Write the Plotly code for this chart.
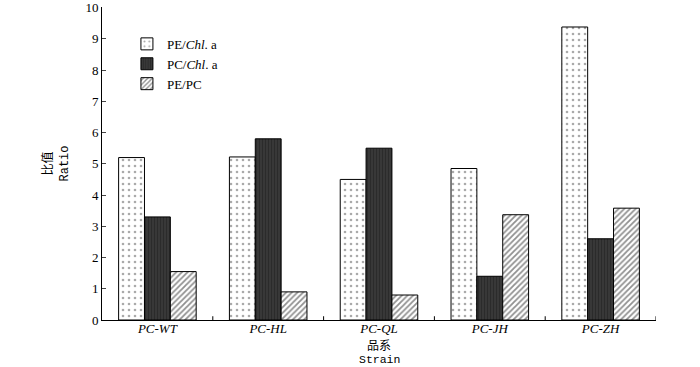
import plotly.graph_objects as go

strains = ["PC-WT", "PC-HL", "PC-QL", "PC-JH", "PC-ZH"]
pe_chl = [5.2, 5.22, 4.5, 4.85, 9.38]
pc_chl = [3.3, 5.8, 5.5, 1.4, 2.6]
pe_pc = [1.55, 0.9, 0.8, 3.37, 3.58]
ticklabels = ["<i>PC-WT</i>", "<i>PC-HL</i>", "<i>PC-QL</i>", "<i>PC-JH</i>", "<i>PC-ZH</i>"]
yticks = [0, 1, 2, 3, 4, 5, 6, 7, 8, 9, 10]

serif = "Liberation Serif, Noto Sans CJK SC, serif"
mono = "Liberation Mono, Noto Sans CJK SC, monospace"

fig = go.Figure()
fig.add_trace(go.Bar(
    x=strains, y=pe_chl, name="PE/<i>Chl</i>. a",
    marker=dict(color="white", line=dict(color="black", width=1),
                pattern=dict(shape=".", fgcolor="#555", bgcolor="white", size=6, solidity=0.15)),
))
fig.add_trace(go.Bar(
    x=strains, y=pc_chl, name="PC/<i>Chl</i>. a",
    marker=dict(color="#2a2a2a", line=dict(color="black", width=1),
                pattern=dict(shape="|", fgcolor="#1a1a1a", bgcolor="#3c3c3c", size=3, solidity=0.5)),
))
fig.add_trace(go.Bar(
    x=strains, y=pe_pc, name="PE/PC",
    marker=dict(color="white", line=dict(color="black", width=1),
                pattern=dict(shape="/", fgcolor="#222", bgcolor="white", size=4, solidity=0.45)),
))

fig.update_layout(
    width=700, height=367,
    margin=dict(l=102, r=44, t=7, b=47, autoexpand=False),
    paper_bgcolor="white", plot_bgcolor="white",
    barmode="group", bargap=0.30, bargroupgap=0,
    font=dict(family=serif, size=13, color="black"),
    showlegend=True,
    legend=dict(x=0.045, y=0.93, xanchor="left", yanchor="top",
                bgcolor="rgba(0,0,0,0)", font=dict(family=serif, size=13),
                itemwidth=30, tracegroupgap=0),
    xaxis=dict(
        tickmode="array", tickvals=strains, ticktext=ticklabels,
        range=[-0.5, 4.5], showline=True, linecolor="black", linewidth=1,
        ticks="", showgrid=False, tickfont=dict(family=serif, size=13),
        automargin=False, ticklabelstandoff=-4,
    ),
    yaxis=dict(
        range=[0, 10.02], tickmode="array", tickvals=yticks,
        showline=True, linecolor="black", linewidth=1,
        ticks="inside", ticklen=4, showgrid=False, zeroline=False,
        tickfont=dict(family=serif, size=13), automargin=False,
        title=dict(text="比值<br>Ratio", font=dict(family=mono, size=12), standoff=14),
    ),
    annotations=[
        dict(text="品系", x=0.5, xref="paper", y=-26 / 313, yref="paper",
             yanchor="middle", showarrow=False, borderpad=0,
             font=dict(family=mono, size=12)),
        dict(text="Strain", x=0.5, xref="paper", y=-40 / 313, yref="paper",
             yanchor="middle", showarrow=False, borderpad=0,
             font=dict(family=mono, size=11.5)),
    ],
)

# category-boundary ticks on x axis (inside)
for b in [0.5, 1.5, 2.5, 3.5, 4.5]:
    fig.add_shape(type="line", xref="x", yref="paper", x0=b, x1=b, y0=0, y1=0.012,
                  line=dict(color="black", width=1))

fig.write_html("out.html", config={"displayModeBar": False},
               post_script="document.body.style.margin='0';")
